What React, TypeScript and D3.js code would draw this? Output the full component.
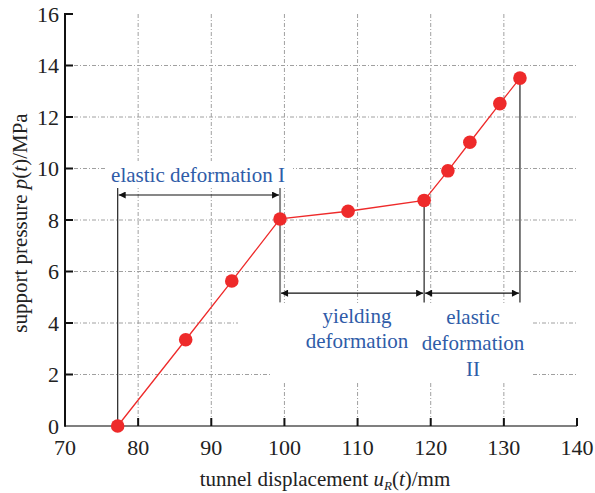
import React from "react";
import * as d3 from "d3";

const dispX = [77.2, 86.5, 92.8, 99.4, 108.7, 119.1, 122.35, 125.35, 129.45, 132.2];
const pressureY = [0, 3.35, 5.63, 8.04, 8.34, 8.76, 9.91, 11.02, 12.52, 13.51];
const xTicks = [70, 80, 90, 100, 110, 120, 130, 140];
const yTicks = [0, 2, 4, 6, 8, 10, 12, 14, 16];
const stageBounds = [77.2, 99.4, 119.1, 132.2];
const stageLabels = [["elastic deformation I"], ["yielding", "deformation"], ["elastic", "deformation", "II"]];

const W = 595, H = 493;
const m = { l: 65, r: 577, t: 14, b: 426 };
const FONT = "'Liberation Serif', 'Times New Roman', serif";
const BLUE = "#2f5ca8";
const RED = "#ee2a2a";

export default function App() {
  const x = d3.scaleLinear().domain([70, 140]).range([m.l, m.r]);
  const y = d3.scaleLinear().domain([0, 16]).range([m.b, m.t]);
  const line = d3.line<number>().x((_, i) => x(dispX[i])).y((d) => y(d));
  const grid = { stroke: "#a0a0a0", strokeWidth: 1, strokeDasharray: "4 2 1 2" };
  const arrowY1 = y(8.97);
  const arrowY2 = y(5.16);
  const topLine = y(9.24);
  const botLine = y(4.8);

  return (
    <svg width={W} height={H} style={{ position: "absolute", left: 0, top: 0, background: "#fff" }} fontFamily={FONT}>
      <defs>
        <marker id="ah" viewBox="0 0 10 10" refX="10" refY="5" markerWidth="11" markerHeight="7" markerUnits="userSpaceOnUse" orient="auto-start-reverse">
          <path d="M0,0 L10,5 L0,10 z" fill="#111" />
        </marker>
      </defs>
      {/* grid */}
      {yTicks.filter((t) => t > 0 && t < 16).map((t) => (
        <line key={"gy" + t} x1={m.l} x2={m.r} y1={y(t)} y2={y(t)} {...grid} />
      ))}
      {xTicks.filter((t) => t > 70 && t < 140).map((t) => (
        <line key={"gx" + t} x1={x(t)} x2={x(t)} y1={m.t} y2={m.b} {...grid} />
      ))}
      {/* white boxes behind text */}
      <rect x={105} y={161} width={188} height={27} fill="#fff" />
      <rect x={238} y={303} width={294} height={59} fill="#fff" />
      <rect x={270} y={362} width={262} height={19} fill="#fff" />

      {/* axes */}
      <line x1={m.l} x2={m.r} y1={m.b} y2={m.b} stroke="#555" strokeWidth={1.5} />
      <line x1={m.l} x2={m.l} y1={m.t - 1} y2={m.b + 0.75} stroke="#111" strokeWidth={2} />
      {yTicks.map((t) => (
        <g key={"yt" + t}>
          {t > 0 && <line x1={m.l} x2={m.l + 8} y1={y(t)} y2={y(t)} stroke="#111" strokeWidth={2} />}
          <text x={m.l - 6} y={y(t)} dy="0.35em" textAnchor="end" fontSize={22} fill="#222">{t}</text>
        </g>
      ))}
      {xTicks.map((t) => (
        <g key={"xt" + t}>
          {t > 70 && <line x1={x(t)} x2={x(t)} y1={m.b} y2={m.b - 8} stroke="#111" strokeWidth={2} />}
          <text x={x(t)} y={m.b + 29} textAnchor="middle" fontSize={22} fill="#222">{t}</text>
        </g>
      ))}
      <text x={325} y={486} textAnchor="middle" fontSize={21} fill="#222">
        tunnel displacement <tspan fontStyle="italic">u</tspan><tspan fontStyle="italic" fontSize={13} dy={4}>R</tspan><tspan dy={-4}>(</tspan><tspan fontStyle="italic">t</tspan>)/mm
      </text>
      <text transform={`translate(27,${223}) rotate(-90)`} textAnchor="middle" fontSize={21} fill="#222">
        support pressure <tspan fontStyle="italic">p</tspan>(<tspan fontStyle="italic">t</tspan>)/MPa
      </text>

      {/* annotation lines */}
      <line x1={x(stageBounds[0])} x2={x(stageBounds[0])} y1={topLine} y2={m.b} stroke="#333" strokeWidth={1.3} />
      <line x1={x(stageBounds[1])} x2={x(stageBounds[1])} y1={topLine} y2={botLine} stroke="#888" strokeWidth={2} />
      <line x1={x(stageBounds[2])} x2={x(stageBounds[2])} y1={y(pressureY[5])} y2={botLine} stroke="#333" strokeWidth={1.3} />
      <line x1={x(stageBounds[3])} x2={x(stageBounds[3])} y1={y(pressureY[9])} y2={botLine} stroke="#333" strokeWidth={1.3} />
      <line x1={x(stageBounds[0]) + 1} x2={x(stageBounds[1]) - 1} y1={arrowY1} y2={arrowY1} stroke="#111" strokeWidth={1.2} markerStart="url(#ah)" markerEnd="url(#ah)" />
      <line x1={x(stageBounds[1]) + 1} x2={x(stageBounds[2]) - 1} y1={arrowY2} y2={arrowY2} stroke="#111" strokeWidth={1.2} markerStart="url(#ah)" markerEnd="url(#ah)" />
      <line x1={x(stageBounds[2]) + 1} x2={x(stageBounds[3]) - 1} y1={arrowY2} y2={arrowY2} stroke="#111" strokeWidth={1.2} markerStart="url(#ah)" markerEnd="url(#ah)" />

      {/* stage labels */}
      <text x={198} y={182} textAnchor="middle" fontSize={21} fill={BLUE}>{stageLabels[0][0]}</text>
      {stageLabels[1].map((s, i) => (
        <text key={"s1" + i} x={357} y={323 + i * 25} textAnchor="middle" fontSize={21} fill={BLUE}>{s}</text>
      ))}
      {stageLabels[2].map((s, i) => (
        <text key={"s2" + i} x={473} y={324 + i * 26} textAnchor="middle" fontSize={21} fill={BLUE}>{s}</text>
      ))}

      {/* data */}
      <path d={line(pressureY) || ""} fill="none" stroke={RED} strokeWidth={1.3} />
      {pressureY.map((v, i) => (
        <circle key={"p" + i} cx={x(dispX[i])} cy={y(v)} r={6.8} fill={RED} />
      ))}
    </svg>
  );
}
